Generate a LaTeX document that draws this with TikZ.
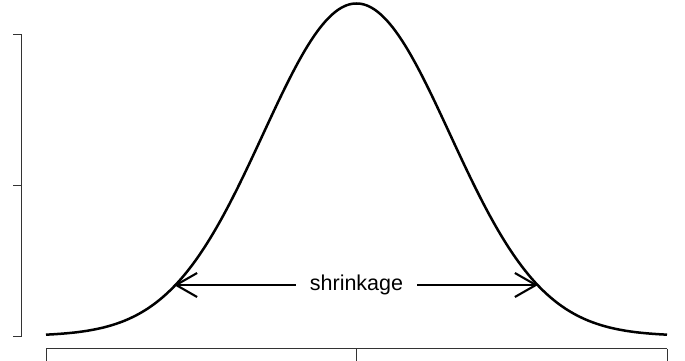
\documentclass[tikz,border=0pt]{standalone}
\usepackage{fontspec}
\setmainfont{Liberation Sans}
\usetikzlibrary{arrows.meta}
\begin{document}
\begin{tikzpicture}[x=1pt,y=-1pt,
  axisline/.style={line width=0.9pt, black!80},
  curveline/.style={line width=2.5pt, black, line join=round},
  arrowline/.style={line width=2.1pt, black, -{Straight Barb[length=21pt,width=24pt,line width=2.1pt]}},
  lbl/.style={font=\fontsize{21.5}{25}\selectfont, inner xsep=14pt, inner ysep=2pt}]
\useasboundingbox (0,0) rectangle (685,361);
% y axis
\coordinate (ya) at (21.5,34.5);
\coordinate (yb) at (21.5,336.5);
\draw[axisline] (ya) -- (yb);
\foreach \y/\n in {34.5/1,185.5/2,336.5/3} {
  \coordinate (yt\n) at (21.5,\y);
  \coordinate (ye\n) at (12.5,\y);
  \draw[axisline] (yt\n) -- (ye\n);
}
% x axis
\coordinate (xa) at (46,348.5);
\coordinate (xb) at (667,348.5);
\draw[axisline] (xa) -- (xb);
\foreach \x/\n in {46/1,356.5/2,667/3} {
  \coordinate (xt\n) at (\x,348.5);
  \coordinate (xe\n) at (\x,362);
  \draw[axisline] (xt\n) -- (xe\n);
}
% curve
\draw[curveline] plot[domain=-310.5:310.5, samples=241, smooth]
  ({356.5+\x}, {336 - 332.5*exp(-((\x/93.5)^2)/2)});
% shrinkage label and arrows
\node[lbl] (s) at (356.5,285) {shrinkage};
\coordinate (L) at (174,285);
\coordinate (R) at (538,285);
\draw[arrowline] (s.west |- L) -- (L);
\draw[arrowline] (s.east |- R) -- (R);
\end{tikzpicture}
\end{document}
